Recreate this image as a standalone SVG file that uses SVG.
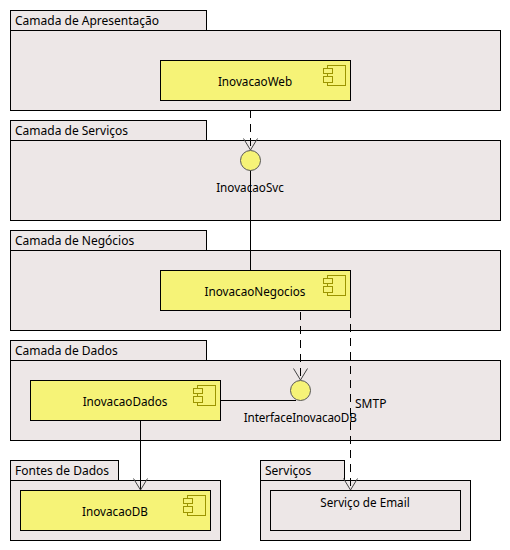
<svg xmlns="http://www.w3.org/2000/svg" width="510" height="550" viewBox="0 0 510 550">
<defs>
<g id="icon"><rect x="-17.5" y="-4.5" width="18" height="20" class="ic"/><rect x="-21.5" y="-1.5" width="9" height="5" class="ic"/><rect x="-21.5" y="6.5" width="9" height="6" class="ic"/></g>
</defs>
<style>
text{font-family:"Noto Sans",sans-serif;font-size:12px;fill:#000}
.pkg{fill:#ede7e7;stroke:#000;stroke-width:1}
.cmp{fill:#f6f377;stroke:#000;stroke-width:1}
.ic{fill:#f6f377;stroke:#9c9400;stroke-width:1}
.box{fill:#ede7e7;stroke:#000;stroke-width:1}
.ci{fill:#f6f377;stroke:#555;stroke-width:1}
.ln{fill:none;stroke:#000;stroke-width:1}
.ds{fill:none;stroke:#000;stroke-width:1;stroke-dasharray:8 6}
.ah{fill:none;stroke:#444;stroke-width:1}
.c{text-anchor:middle;font-size:11.7px}
</style>
<g id="pkg-apresentacao"><rect class="pkg" x="10.5" y="10.5" width="196" height="20"/><rect class="pkg" x="10.5" y="30.5" width="490" height="80"/><text x="15" y="25">Camada de Apresentação</text></g>
<g id="pkg-servicos"><rect class="pkg" x="10.5" y="120.5" width="196" height="20"/><rect class="pkg" x="10.5" y="140.5" width="490" height="80"/><text x="15" y="135">Camada de Serviços</text></g>
<g id="pkg-negocios"><rect class="pkg" x="10.5" y="230.5" width="196" height="20"/><rect class="pkg" x="10.5" y="250.5" width="490" height="80"/><text x="15" y="245">Camada de Negócios</text></g>
<g id="pkg-dados"><rect class="pkg" x="10.5" y="340.5" width="196" height="20"/><rect class="pkg" x="10.5" y="360.5" width="490" height="80"/><text x="15" y="355">Camada de Dados</text></g>
<g id="pkg-fontes"><rect class="pkg" x="10.5" y="460.5" width="108" height="20"/><rect class="pkg" x="10.5" y="480.5" width="210" height="60"/><text x="15" y="475">Fontes de Dados</text></g>
<g id="pkg-svc"><rect class="pkg" x="260.5" y="460.5" width="84" height="20"/><rect class="pkg" x="260.5" y="480.5" width="210" height="60"/><text x="265" y="475">Serviços</text></g>
<g id="connectors">
<path class="ds" d="M250.5 110V150"/>
<path class="ah" d="M243.5 138.5L250.5 150L257.5 138.5"/>
<path class="ln" d="M250.5 170V270"/>
<path class="ds" d="M300.5 312V380"/>
<path class="ah" d="M293.5 368.5L300.5 380L307.5 368.5"/>
<path class="ln" d="M220.5 400.5H296"/>
<path class="ds" d="M350.5 310V490"/>
<path class="ah" d="M343.5 478.5L350.5 490L357.5 478.5"/>
<path class="ln" d="M140.5 420V490"/>
<path class="ah" d="M133.5 478.5L140.5 490L147.5 478.5"/>
</g>
<g id="InovacaoWeb"><rect class="cmp" x="160.5" y="60.5" width="190" height="40"/><use href="#icon" x="345" y="70"/><text class="c" x="255" y="86">InovacaoWeb</text></g>
<g id="InovacaoSvc"><circle class="ci" cx="250.5" cy="160.5" r="10"/><text class="c" x="250" y="192">InovacaoSvc</text></g>
<g id="InovacaoNegocios"><rect class="cmp" x="160.5" y="270.5" width="190" height="40"/><use href="#icon" x="345" y="280"/><text class="c" x="255" y="296">InovacaoNegocios</text></g>
<g id="InterfaceInovacaoDB"><circle class="ci" cx="300.5" cy="390.5" r="10"/><text class="c" x="300.3" y="422" textLength="113">InterfaceInovacaoDB</text></g>
<text x="355" y="408">SMTP</text>
<g id="InovacaoDados"><rect class="cmp" x="30.5" y="380.5" width="190" height="40"/><use href="#icon" x="215" y="390"/><text class="c" x="125" y="406">InovacaoDados</text></g>
<g id="InovacaoDB"><rect class="cmp" x="20.5" y="490.5" width="190" height="40"/><use href="#icon" x="205" y="500"/><text class="c" x="115" y="516">InovacaoDB</text></g>
<g id="ServicoEmail"><rect class="box" x="270.5" y="490.5" width="190" height="40"/><text class="c" x="365" y="507">Serviço de Email</text></g>
</svg>
